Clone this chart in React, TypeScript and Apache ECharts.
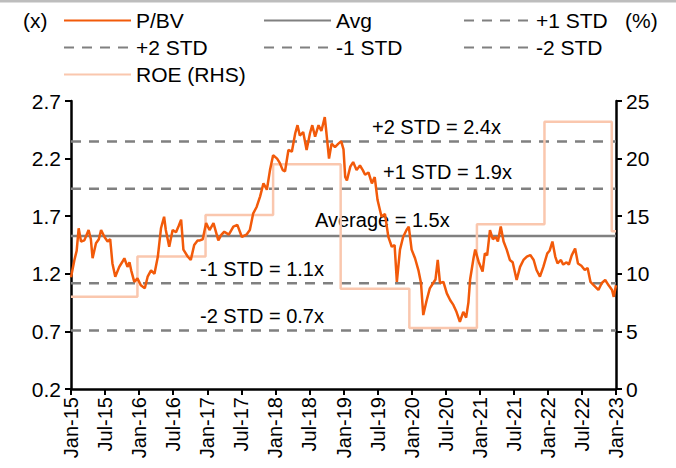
import React, { useEffect, useRef } from "react";
import * as echarts from "echarts";

// months since Jan-2015
const pbvDates = [
  0, 0.6, 1.0, 1.35, 1.76, 2.35, 3.1, 3.5, 3.8, 4.4, 4.9, 5.3, 5.9, 6.45, 6.9, 7.3, 7.8, 8.5, 9.0, 9.4,
  9.95, 10.3, 10.6, 11.15, 11.7, 12.3, 13.0, 13.5, 14.1, 14.7, 15.3, 15.85, 16.4, 16.7, 17.3, 17.9, 18.5, 19.0, 19.4, 19.8,
  20.55, 21.1, 21.7, 22.3, 22.7, 23.2, 23.8, 24.4, 25.1, 25.95, 26.5, 27.0, 27.8, 28.6, 29.3, 30.1, 30.9, 31.5, 32.1, 32.7,
  33.3, 33.9, 34.5, 35.05, 35.6, 36.3, 36.8, 37.3, 37.7, 38.3, 38.9, 39.5, 39.9, 40.3, 40.9, 41.5, 42.1, 42.5, 43.0, 43.6,
  44.1, 44.7, 45.0, 45.45, 45.9, 46.5, 47.1, 47.6, 48.0, 48.3, 48.6, 49.2, 49.7, 50.3, 50.9, 51.4, 51.8, 52.4, 53.0, 53.5,
  54.0, 54.7, 55.3, 55.9, 56.5, 57.0, 57.4, 57.95, 58.5, 59.1, 59.5, 60.0, 60.6, 61.2, 61.65, 62.05, 62.65, 63.2, 63.8, 64.2,
  64.6, 65.0, 65.6, 66.2, 66.8, 67.35, 67.9, 68.5, 69.1, 69.6, 70.0, 70.3, 70.9, 71.2, 71.8, 72.5, 72.9, 73.3, 73.8, 74.3,
  74.8, 75.2, 75.7, 76.2, 76.75, 77.3, 77.8, 78.5, 79.1, 79.7, 80.3, 80.9, 81.5, 82.0, 82.6, 83.2, 83.9, 84.3, 84.8, 85.3,
  85.7, 86.3, 86.7, 87.3, 87.7, 88.2, 88.8, 89.3, 89.9, 90.5, 91.0, 91.5, 92.1, 92.9, 93.5, 94.1, 94.7, 95.3, 95.6, 96.0,
];
const pbvValues = [
  1.17, 1.32, 1.4, 1.595, 1.48, 1.49, 1.58, 1.5, 1.335, 1.465, 1.5, 1.58, 1.52, 1.48, 1.5, 1.29, 1.175, 1.26, 1.3, 1.335,
  1.26, 1.3, 1.23, 1.13, 1.16, 1.1, 1.074, 1.175, 1.23, 1.2, 1.35, 1.595, 1.695, 1.58, 1.435, 1.58, 1.56, 1.62, 1.67, 1.41,
  1.35, 1.32, 1.45, 1.49, 1.49, 1.5, 1.64, 1.58, 1.64, 1.49, 1.54, 1.565, 1.54, 1.61, 1.625, 1.52, 1.54, 1.58, 1.725, 1.78,
  1.87, 1.985, 1.93, 2.1, 2.23, 2.2, 2.16, 2.1, 2.09, 2.275, 2.26, 2.42, 2.49, 2.4, 2.43, 2.275, 2.42, 2.49, 2.39, 2.49,
  2.44, 2.56, 2.42, 2.2, 2.33, 2.3, 2.33, 2.35, 2.28, 2.04, 2.01, 2.13, 2.17, 2.1, 2.14, 2.1, 2.06, 2.08, 1.985, 2.04,
  1.84, 1.695, 1.72, 1.52, 1.435, 1.45, 1.13, 1.41, 1.52, 1.58, 1.61, 1.41, 1.335, 1.23, 1.12, 0.842, 0.97, 1.074, 1.12, 1.15,
  1.32, 1.12, 1.13, 1.03, 0.97, 0.93, 0.87, 0.784, 0.87, 0.82, 0.95, 1.15, 1.335, 1.41, 1.305, 1.22, 1.378, 1.36, 1.58, 1.5,
  1.52, 1.48, 1.61, 1.48, 1.41, 1.32, 1.3, 1.146, 1.26, 1.32, 1.35, 1.363, 1.32, 1.233, 1.175, 1.26, 1.378, 1.4, 1.48, 1.35,
  1.29, 1.32, 1.28, 1.3, 1.28, 1.36, 1.42, 1.29, 1.27, 1.233, 1.25, 1.13, 1.1, 1.06, 1.12, 1.146, 1.1, 1.06, 1.0, 1.1,
];

const roeDates = [0, 11.7, 23.7, 35.6, 47.5, 59.6, 71.5, 83.4, 95.25, 96];
const roeValues = [8.0, 11.5, 15.1, 19.5, 8.7, 5.3, 14.3, 23.2, 13.7, 13.7];

const avgValue = 1.528;
const stdValue = 0.41;
const bandNames = ["+2 STD", "+1 STD", "-1 STD", "-2 STD"];
const bandMultipliers = [2, 1, -1, -2];
const bandLabels = ["+2 STD = 2.4x", "+1 STD = 1.9x", "Average = 1.5x", "-1 STD = 1.1x", "-2 STD = 0.7x"];

const xTickLabels = [
  "Jan-15", "Jul-15", "Jan-16", "Jul-16", "Jan-17", "Jul-17", "Jan-18", "Jul-18", "Jan-19",
  "Jul-19", "Jan-20", "Jul-20", "Jan-21", "Jul-21", "Jan-22", "Jul-22", "Jan-23",
];

const FONT = "'Liberation Sans', Arial, sans-serif";
const ORANGE = "#F25A0A";
const PEACH = "#FAC7AE";
const GREY = "#808080";

export default function App() {
  const ref = useRef<HTMLDivElement>(null);

  useEffect(() => {
    if (!ref.current) return;
    const chart = echarts.init(ref.current, undefined, { renderer: "svg" });

    const xMin = 0;
    const xMax = 96;
    const flat = (v: number) => [
      [xMin, v],
      [xMax, v],
    ];

    const bandSeries = bandNames.map((name, i) => ({
      name,
      type: "line",
      data: flat(avgValue + bandMultipliers[i] * stdValue),
      symbol: "none",
      lineStyle: { color: GREY, width: 2.5, type: [10, 8] },
      itemStyle: { color: GREY },
      z: 2,
    }));

    const legendCommon = {
      orient: "vertical",
      top: 10,
      itemWidth: 67,
      itemHeight: 14,
      itemGap: 6,
      selectedMode: false,
      padding: 0,
      itemStyle: { opacity: 0 },
      textStyle: { fontSize: 21, color: "#000", fontFamily: FONT },
    };

    const annPos = [
      { x: 372, y: 128 },
      { x: 383, y: 173 },
      { x: 315, y: 221 },
      { x: 200, y: 270 },
      { x: 200, y: 317 },
    ];

    chart.setOption({
      animation: false,
      textStyle: { fontFamily: FONT },
      grid: { left: 71, right: 60, top: 101, bottom: 79, containLabel: false },
      legend: [
        { ...legendCommon, left: 63, data: ["P/BV", "+2 STD", "ROE (RHS)"] },
        { ...legendCommon, left: 263, data: ["Avg", "-1 STD"] },
        { ...legendCommon, left: 463, data: ["+1 STD", "-2 STD"] },
      ],
      xAxis: {
        type: "value",
        min: xMin,
        max: xMax,
        interval: 6,
        axisLine: { show: true, onZero: false, lineStyle: { color: "#000", width: 2.5 } },
        axisTick: { show: true, length: 6, lineStyle: { color: "#000", width: 2 } },
        splitLine: { show: false },
        axisLabel: {
          rotate: 90,
          fontSize: 20,
          color: "#000",
          fontFamily: FONT,
          margin: 8,
          formatter: (v: number) => xTickLabels[Math.round(v / 6)] ?? "",
        },
      },
      yAxis: [
        {
          type: "value",
          min: 0.2,
          max: 2.7,
          interval: 0.5,
          axisLine: { show: true, lineStyle: { color: "#000", width: 2.5 } },
          axisTick: { show: true, length: 6, lineStyle: { color: "#000", width: 2 } },
          splitLine: { show: false },
          axisLabel: {
            fontSize: 21,
            color: "#000",
            fontFamily: FONT,
            margin: 10,
            formatter: (v: number) => v.toFixed(1),
          },
        },
        {
          type: "value",
          min: 0,
          max: 25,
          interval: 5,
          position: "right",
          axisLine: { show: true, lineStyle: { color: "#000", width: 2.5 } },
          axisTick: { show: true, length: 6, lineStyle: { color: "#000", width: 2 } },
          splitLine: { show: false },
          axisLabel: { fontSize: 21, color: "#000", fontFamily: FONT, margin: 10 },
        },
      ],
      series: [
        ...bandSeries,
        {
          name: "Avg",
          type: "line",
          data: flat(avgValue),
          symbol: "none",
          lineStyle: { color: GREY, width: 2.5 },
          itemStyle: { color: GREY },
          z: 2,
        },
        {
          name: "ROE (RHS)",
          type: "line",
          yAxisIndex: 1,
          step: "end",
          data: roeDates.map((d, i) => [d, roeValues[i]]),
          symbol: "none",
          lineStyle: { color: PEACH, width: 2.5 },
          itemStyle: { color: PEACH },
          z: 3,
        },
        {
          name: "P/BV",
          type: "line",
          data: pbvDates.map((d, i) => [d, pbvValues[i]]),
          symbol: "none",
          lineStyle: { color: ORANGE, width: 2.5 },
          itemStyle: { color: ORANGE },
          z: 4,
        },
      ],
      graphic: [
        { type: "rect", shape: { x: 0, y: 0, width: 676, height: 2.5 }, style: { fill: "#bdbdbd" }, z: 0 },
        {
          type: "text",
          left: 23,
          top: 10,
          style: { text: "(x)", fill: "#000", font: `21px ${FONT}` },
        },
        {
          type: "text",
          left: 625,
          top: 10,
          style: { text: "(%)", fill: "#000", font: `21px ${FONT}` },
        },
        ...bandLabels.map((t, i) => ({
          type: "text",
          left: annPos[i].x,
          top: annPos[i].y - 11,
          z: 1,
          style: { text: t, fill: "#000", font: `20px ${FONT}` },
        })),
      ],
    });

    return () => chart.dispose();
  }, []);

  return (
    <div
      ref={ref}
      style={{ position: "fixed", left: 0, top: 0, width: 676, height: 468, background: "#fff" }}
    />
  );
}
